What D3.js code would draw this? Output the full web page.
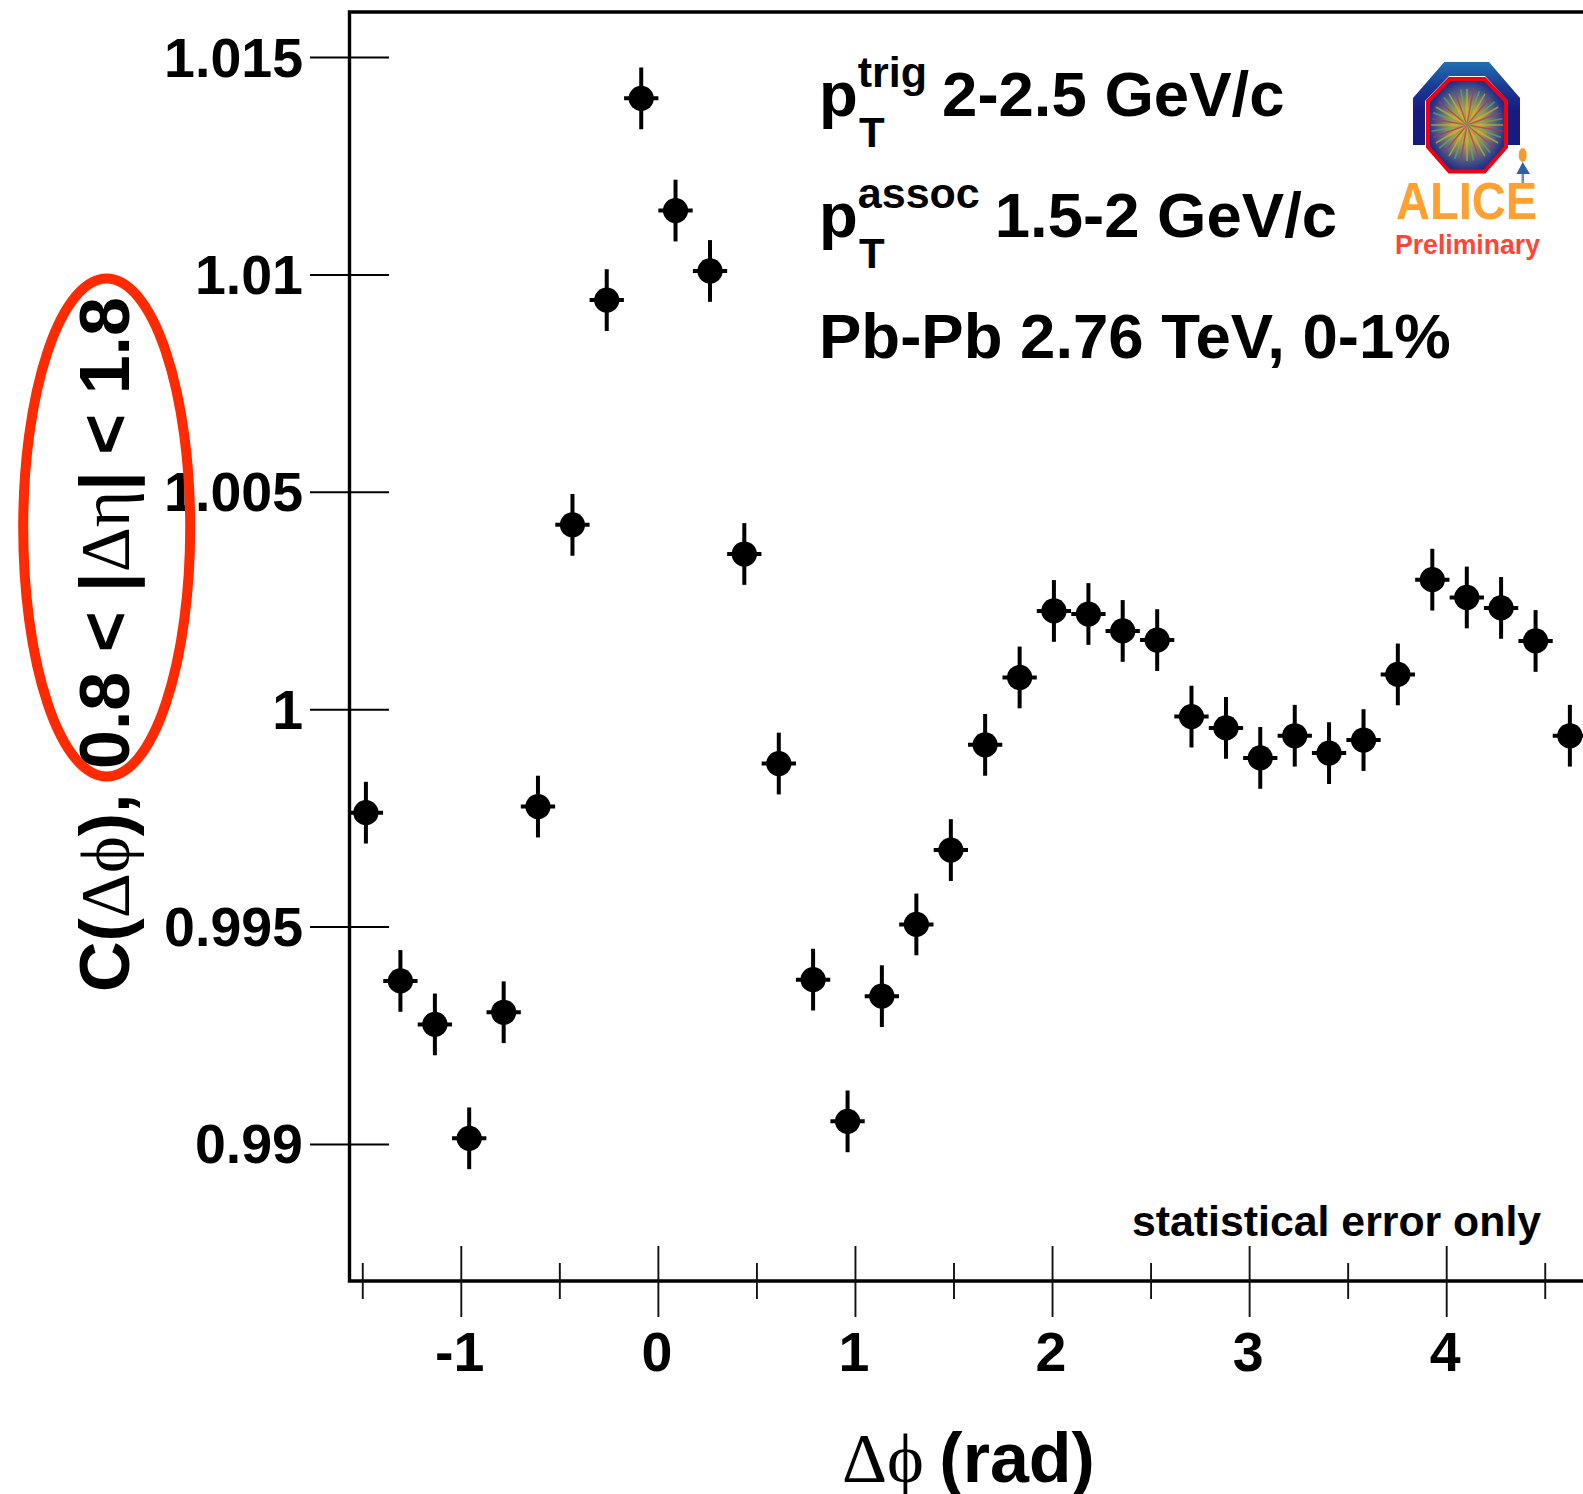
<!DOCTYPE html>
<html>
<head>
<meta charset="utf-8">
<script src="https://cdn.jsdelivr.net/npm/d3@7"></script>
<style>
    html, body { margin: 0; padding: 0; background: #fff; overflow: hidden; }
    svg { display: block; }
    text { font-family: "Liberation Sans", Arial, sans-serif; font-weight: bold; fill: #000; }
    .sym { font-family: "Liberation Serif", serif; font-weight: normal; }
</style>
</head>
<body>
<svg id="chart" width="1583" height="1494"></svg>
<script>
// bin centres in rad
const dphi = [-1.484, -1.309, -1.134, -0.960, -0.785, -0.611, -0.436, -0.262, -0.087,
    0.087, 0.262, 0.436, 0.611, 0.785, 0.960, 1.134, 1.309, 1.484,
    1.658, 1.833, 2.007, 2.182, 2.356, 2.531, 2.705, 2.880, 3.054, 3.229,
    3.403, 3.578, 3.752, 3.927, 4.102, 4.276, 4.451, 4.625]
const corr = [0.99763, 0.99376, 0.99276, 0.99014, 0.99304, 0.99777, 1.00425, 1.00942, 1.01406,
    1.01148, 1.01009, 1.00358, 0.99876, 0.99379, 0.99053, 0.99341, 0.99506, 0.99677,
    0.99919, 1.00074, 1.00227, 1.00220, 1.00181, 1.00160, 0.99984, 0.99958, 0.99889, 0.99940,
    0.99900, 0.99930, 1.00081, 1.00299, 1.00258, 1.00234, 1.00158, 0.99940]
const corrErr = [0.00071, 0.00071, 0.00071, 0.00071, 0.00071, 0.00071, 0.00071, 0.00071, 0.00071,
    0.00071, 0.00071, 0.00071, 0.00071, 0.00071, 0.00071, 0.00071, 0.00071, 0.00071,
    0.00071, 0.00071, 0.00071, 0.00071, 0.00071, 0.00071, 0.00071, 0.00071, 0.00071, 0.00071,
    0.00071, 0.00071, 0.00071, 0.00071, 0.00071, 0.00071, 0.00071, 0.00071]
const binHalf = 0.087

const yTicks = [0.99, 0.995, 1, 1.005, 1.01, 1.015]
const yTickLabels = ['0.99', '0.995', '1', '1.005', '1.01', '1.015']
const xMajor = [-1, 0, 1, 2, 3, 4]
const xMinor = [-1.5, -0.5, 0.5, 1.5, 2.5, 3.5, 4.5]

const frame = { left: 349.5, top: 12, bottom: 1281 }

const svg = d3.select('#chart')

// axis pinned on two ticks
const x = d3.scaleLinear().domain([-1, 4]).range([461.3, 1446.7])
const y = d3.scaleLinear().domain([0.99, 1.015]).range([1144.4, 57.5])

// markers
const points = svg.append('g')
    .selectAll('g')
    .data(dphi)
    .enter().append('g')

points.append('line')
    .attr('x1', d => x(d)).attr('x2', d => x(d))
    .attr('y1', (d, i) => y(corr[i] - corrErr[i]))
    .attr('y2', (d, i) => y(corr[i] + corrErr[i]))
    .attr('stroke', '#000').attr('stroke-width', 4)

points.append('line')
    .attr('x1', d => x(d - binHalf)).attr('x2', d => x(d + binHalf))
    .attr('y1', (d, i) => y(corr[i])).attr('y2', (d, i) => y(corr[i]))
    .attr('stroke', '#000').attr('stroke-width', 4)

points.append('circle')
    .attr('cx', d => x(d))
    .attr('cy', (d, i) => y(corr[i]))
    .attr('r', 12.6)
    .attr('fill', '#000')

// frame, runs off the right side of the page
svg.append('path')
    .attr('d', `M1583,${frame.top}H${frame.left}V${frame.bottom}H1583`)
    .attr('fill', 'none')
    .attr('stroke', '#000')
    .attr('stroke-width', 3.4)

// ticks
svg.append('g').selectAll('line')
    .data(yTicks)
    .enter().append('line')
    .attr('x1', 310).attr('x2', 389)
    .attr('y1', d => y(d)).attr('y2', d => y(d))
    .attr('stroke', '#000').attr('stroke-width', 2)

svg.append('g').selectAll('line')
    .data(xMajor)
    .enter().append('line')
    .attr('x1', d => x(d)).attr('x2', d => x(d))
    .attr('y1', 1246).attr('y2', 1317)
    .attr('stroke', '#111').attr('stroke-width', 1.9)

svg.append('g').selectAll('line')
    .data(xMinor)
    .enter().append('line')
    .attr('x1', d => x(d)).attr('x2', d => x(d))
    .attr('y1', 1263).attr('y2', 1299)
    .attr('stroke', '#111').attr('stroke-width', 1.9)

// tick labels
svg.append('g').selectAll('text')
    .data(yTicks)
    .enter().append('text')
    .attr('x', 303)
    .attr('y', d => y(d) + 19)
    .attr('text-anchor', 'end')
    .attr('font-size', 55.5)
    .text((d, i) => yTickLabels[i])

svg.append('g').selectAll('text')
    .data(xMajor)
    .enter().append('text')
    .attr('x', d => x(d) - 1.5)
    .attr('y', 1371)
    .attr('text-anchor', 'middle')
    .attr('font-size', 55.5)
    .text(d => d)

// axis titles
function symText(parent, parts) {
    parts.forEach(p => {
        parent.append('tspan')
            .attr('class', p[1] ? 'sym' : null)
            .attr('dx', p[2] || null)
            .text(p[0])
    })
}

const yTitle = svg.append('text')
    .attr('transform', 'translate(129,992) rotate(-90)')
    .attr('font-size', 70)
symText(yTitle, [['C(', 0], ['Δϕ', 1], ['),', 0], [' 0.8 < |', 0, 5], ['Δη', 1], ['|', 0], [' < 1.8', 0, -3]])

const xTitle = svg.append('text')
    .attr('x', 842)
    .attr('y', 1482)
    .attr('font-size', 70)
symText(xTitle, [['Δϕ', 1], [' (rad)', 0, -4]])

// annotations
const labelSize = 63.5
function ptLabel(py, sup, rest) {
    const t = svg.append('text').attr('x', 819).attr('y', py).attr('font-size', labelSize)
    t.append('tspan').text('p')
    t.append('tspan').attr('font-size', 43).attr('dy', -29).text(sup)
    t.append('tspan').attr('dy', 29).attr('dx', 15).text(rest)
    svg.append('text').attr('x', 859).attr('y', py + 31).attr('font-size', 42).text('T')
}
ptLabel(116, 'trig', '2-2.5 GeV/c')
ptLabel(237, 'assoc', '1.5-2 GeV/c')
svg.append('text').attr('x', 819).attr('y', 358).attr('font-size', labelSize).text('Pb-Pb 2.76 TeV, 0-1%')

svg.append('text')
    .attr('x', 1132).attr('y', 1236)
    .attr('font-size', 42.8)
    .text('statistical error only')

// red highlight around the eta range
svg.append('ellipse')
    .attr('cx', 106.7).attr('cy', 527.6)
    .attr('rx', 83.5).attr('ry', 249)
    .attr('fill', 'none')
    .attr('stroke', '#ff2a00')
    .attr('stroke-width', 10)

// ALICE logo
const logo = svg.append('g').attr('transform', 'translate(1467,125)')
const defs = svg.append('defs')
const blue = defs.append('linearGradient').attr('id', 'magnet').attr('x1', 0).attr('x2', 0).attr('y1', 0).attr('y2', 1)
blue.append('stop').attr('offset', '0').attr('stop-color', '#2170b2')
blue.append('stop').attr('offset', '0.3').attr('stop-color', '#1a3a94')
blue.append('stop').attr('offset', '0.6').attr('stop-color', '#191a80')
blue.append('stop').attr('offset', '1').attr('stop-color', '#191a80')
const core = defs.append('radialGradient').attr('id', 'core')
core.append('stop').attr('offset', '0').attr('stop-color', '#ffa020')
core.append('stop').attr('offset', '0.35').attr('stop-color', '#b9a840')
core.append('stop').attr('offset', '0.7').attr('stop-color', '#5a6a80')
core.append('stop').attr('offset', '1').attr('stop-color', '#232c88')

logo.append('path')
    .attr('d', 'M-54,20V-27L-22.7,-63H22L53,-27V20H41V-24L18,-49H-18L-42,-24V20Z')
    .attr('fill', 'url(#magnet)')
logo.append('path')
    .attr('d', 'M-17.5,-46H17.5L39,-24V22L17.5,46.5H-17.5L-39,22V-24Z')
    .attr('fill', 'url(#core)')
    .attr('stroke', '#f00010')
    .attr('stroke-width', 4)
const spokes = d3.range(0, 360, 10)
logo.append('g').selectAll('line')
    .data(spokes)
    .enter().append('line')
    .attr('x1', 0).attr('y1', 0)
    .attr('x2', d => 36 * Math.cos(d * Math.PI / 180))
    .attr('y2', d => 36 * Math.sin(d * Math.PI / 180))
    .attr('stroke', (d, i) => ['#d8b030', '#b03060', '#70a860'][i % 3])
    .attr('stroke-width', 1.5)
    .attr('opacity', 0.7)

svg.append('text')
    .attr('x', 1396).attr('y', 218.5)
    .attr('font-size', 51)
    .attr('textLength', 141)
    .attr('lengthAdjust', 'spacingAndGlyphs')
    .style('fill', '#ffa030')
    .text('ALICE')
svg.append('text')
    .attr('x', 1395).attr('y', 253.5)
    .attr('font-size', 28)
    .attr('textLength', 145)
    .attr('lengthAdjust', 'spacingAndGlyphs')
    .style('fill', '#ff4535')
    .text('Preliminary')

// small figure next to the magnet
logo.append('ellipse').attr('cx', 55.7).attr('cy', 30).attr('rx', 4).attr('ry', 7).attr('fill', '#f59a30')
logo.append('path').attr('d', 'M55.7,37L63,49H49.5Z').attr('fill', '#2a62a8')
logo.append('rect').attr('x', 54.5).attr('y', 49).attr('width', 2.6).attr('height', 10).attr('fill', '#6d92b8')
</script>
</body>
</html>
